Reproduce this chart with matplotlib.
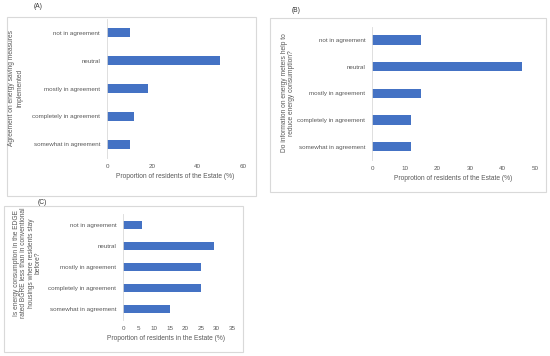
import matplotlib
matplotlib.use("Agg")
import matplotlib.pyplot as plt
from matplotlib.patches import Rectangle

plt.rcParams['font.family'] = ['Liberation Sans', 'DejaVu Sans']

categories = ["not in agreement", "neutral", "mostly in agreement",
              "completely in agreement", "somewhat in agreement"]
values_a = [10, 50, 18, 12, 10]
values_b = [15, 46, 15, 12, 12]
values_c = [6, 29, 25, 25, 15]
ticks_a = [0, 20, 40, 60]
ticks_b = [0, 10, 20, 30, 40, 50]
ticks_c = [0, 5, 10, 15, 20, 25, 30, 35]

ylabel_a = "Agreement on energy saving measures\nimplemented"
ylabel_b = "Do information on energy meters help to\nreduce energy consumption?"
ylabel_c = ("Is energy consumption in the EDGE\nrated BGRE less than in conventional\n"
            "housings where residents stay\nbefore?")
xlabel_a = "Proportion of residents of the Estate (%)"
xlabel_b = "Proprotion of residents of the Estate (%)"
xlabel_c = "Proportion of residents in the Estate (%)"

W, H = 550, 356
fig = plt.figure(figsize=(W / 100, H / 100), dpi=100)
fig.patch.set_facecolor("white")

BAR = "#4472C4"
TXT = "#595959"
FS = 4.8
FST = 4.5


def fx(x):
    return x / W


def fy(y):
    return 1 - y / H


def frame(x0, y0, x1, y1):
    r = Rectangle((fx(x0), fy(y1)), fx(x1) - fx(x0), fy(y0) - fy(y1),
                  transform=fig.transFigure, facecolor="white",
                  edgecolor="#d9d9d9", linewidth=0.8, zorder=-5)
    fig.add_artist(r)


def panel(rect, vals, ticks, height, xlabel, xl_xy, ylabel, yl_xy, lbl, lbl_xy,
          ls=1.2):
    x0, y0, x1, y1 = rect
    ax = fig.add_axes([fx(x0), fy(y1), fx(x1) - fx(x0), fy(y0) - fy(y1)])
    ax.set_zorder(2)
    ax.set_facecolor("none")
    pos = list(range(len(categories)))
    ax.barh(pos, vals, height=height, color=BAR, zorder=2)
    ax.set_ylim(len(categories) - 0.5, -0.5)
    ax.set_xlim(ticks[0], ticks[-1])
    ax.set_yticks(pos)
    ax.set_yticklabels(categories, fontsize=FST, color=TXT)
    ax.set_xticks(ticks)
    ax.set_xticklabels([str(t) for t in ticks], fontsize=FST, color=TXT)
    ax.tick_params(axis="y", length=0, pad=5)
    ax.tick_params(axis="x", length=0, pad=4)
    for s in ["top", "right", "bottom"]:
        ax.spines[s].set_visible(False)
    ax.spines["left"].set_color("#d9d9d9")
    ax.spines["left"].set_linewidth(0.6)
    fig.text(fx(xl_xy[0]), fy(xl_xy[1]), xlabel, fontsize=FS, color=TXT,
             ha="center", va="center")
    fig.text(fx(yl_xy[0]), fy(yl_xy[1]), ylabel, fontsize=FS, color=TXT,
             ha="center", va="center", rotation=90, multialignment="center",
             linespacing=ls)
    fig.text(fx(lbl_xy[0]), fy(lbl_xy[1]), lbl, fontsize=FS, color="#333333",
             ha="center", va="center")
    return ax


frame(7, 17, 256, 196)
frame(270, 18, 546, 192)
frame(4, 206, 243, 352)

panel((107, 19, 243, 158), values_a, ticks_a, 0.32, xlabel_a, (175, 177),
      ylabel_a, (15.5, 88), "(A)", (38, 6), ls=1.3)
panel((372.3, 26.7, 535.3, 160), values_b, ticks_b, 0.35, xlabel_b, (453, 179),
      ylabel_b, (288, 93), "(B)", (296, 10), ls=1.1)
panel((123.3, 214.5, 232.3, 320), values_c, ticks_c, 0.38, xlabel_c, (166, 339),
      ylabel_c, (27.5, 263), "(C)", (42, 203), ls=1.05)

fig.savefig("out.png", dpi=100, facecolor="white")
